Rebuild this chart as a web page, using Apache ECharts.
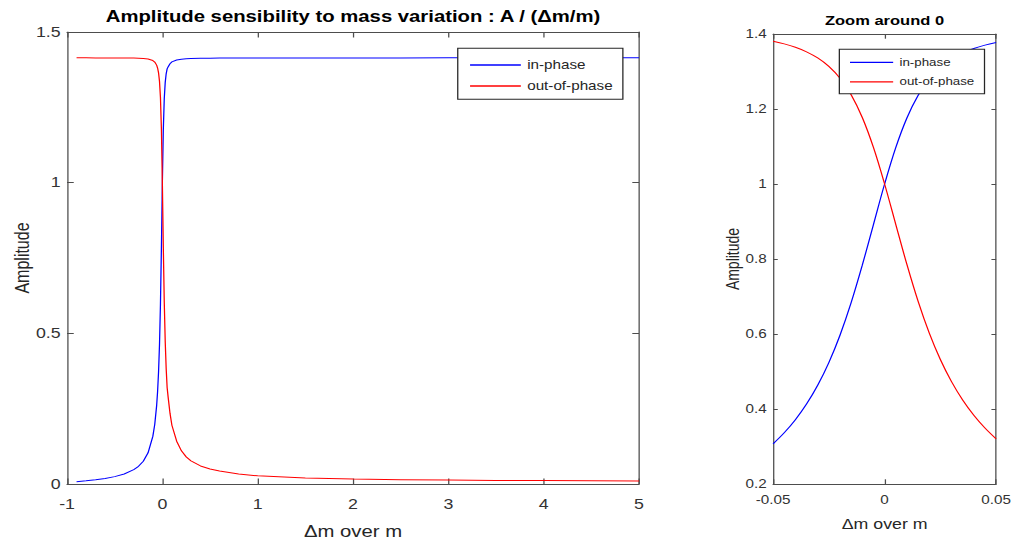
<!DOCTYPE html>
<html>
<head>
<meta charset="utf-8">
<script src="https://cdn.jsdelivr.net/npm/echarts@6/dist/echarts.min.js"></script>
<style>
  html, body { margin: 0; padding: 0; background: #fff; overflow: hidden; }
  /* the figure is laid out on a narrower canvas and widened horizontally */
  #chart { width: 798px; height: 545px; transform: scaleX(1.26942); transform-origin: 0 0; }
</style>
</head>
<body>
<div id="chart"></div>
<script>
// Relative mass variation (Δm/m) over the full range
const xWide = [-0.9, -0.8, -0.7, -0.6, -0.5, -0.4, -0.3, -0.25, -0.2, -0.15, -0.1, -0.08, -0.06, -0.05,
  -0.04, -0.03, -0.02, -0.01, 0, 0.01, 0.02, 0.03, 0.04, 0.05, 0.06, 0.08, 0.1, 0.15, 0.2, 0.25, 0.3,
  0.4, 0.5, 0.6, 0.8, 1, 1.5, 2, 2.5, 3, 3.5, 4, 4.5, 5];
const inPhaseWide = [0.0074, 0.0105, 0.0141, 0.0185, 0.0245, 0.0332, 0.0475, 0.0588, 0.0757, 0.1036,
  0.158, 0.1975, 0.2602, 0.307, 0.3714, 0.4632, 0.5967, 0.7834, 1, 1.176, 1.2792, 1.3328, 1.3612,
  1.3774, 1.3841, 1.3946, 1.4007, 1.4071, 1.4099, 1.4114, 1.4121, 1.4129, 1.4133, 1.4136, 1.4138,
  1.414, 1.4141, 1.4141, 1.4141, 1.4142, 1.4142, 1.4142, 1.4142, 1.4142];
const outPhaseWide = [1.4142, 1.4142, 1.4141, 1.4141, 1.414, 1.4138, 1.4134, 1.413, 1.4122, 1.4104,
  1.4053, 1.4003, 1.3901, 1.3805, 1.3646, 1.3362, 1.2822, 1.1774, 1, 0.7855, 0.603, 0.4729, 0.3834,
  0.3204, 0.29, 0.235, 0.195, 0.142, 0.11, 0.09, 0.077, 0.06, 0.05, 0.043, 0.033,
  0.027, 0.02, 0.0165, 0.0145, 0.013, 0.012, 0.0113, 0.0107, 0.0102];

// Close-up around Δm/m = 0
const xZoom = [-0.05, -0.045, -0.04, -0.035, -0.03, -0.025, -0.02, -0.015, -0.01, -0.005, 0,
  0.005, 0.01, 0.015, 0.02, 0.025, 0.03, 0.035, 0.04, 0.045, 0.05];
const inPhaseZoom = [0.307, 0.3365, 0.3714, 0.4131, 0.4632, 0.5237, 0.5967, 0.6835, 0.7834, 0.8919, 1,
  1.097, 1.176, 1.2358, 1.2792, 1.3104, 1.3328, 1.3491, 1.3612, 1.3704, 1.3774];
const outPhaseZoom = [1.3805, 1.3736, 1.3646, 1.3525, 1.3362, 1.3137, 1.2822, 1.2381, 1.1774, 1.0975, 1,
  0.8925, 0.7855, 0.6876, 0.603, 0.5319, 0.4729, 0.4241, 0.3834, 0.3493, 0.3204];

const seriesNames = ['in-phase', 'out-of-phase'];
const seriesColors = ['#0000ff', '#ff0000'];
const titles = ['Amplitude sensibility to mass variation : A / (\u0394m/m)', 'Zoom around 0'];
const xName = '\u0394m over m';
const yName = 'Amplitude';

const FONT = '"Liberation Sans", Arial, Helvetica, sans-serif';
const AXIS = '#4d4d4d';
const TEXT = '#333333';

function pairs(xs, ys) { return xs.map((x, i) => [x, ys[i]]); }

function axis(gridIndex, position, range, tickLen, label, name) {
  const a = {
    gridIndex, type: 'value', position,
    min: range[0], max: range[1], interval: range[2],
    axisLine: { show: true, onZero: false, lineStyle: { color: AXIS, width: 1 } },
    axisTick: { show: true, inside: true, length: tickLen, lineStyle: { color: AXIS, width: 1 } },
    axisLabel: label ? { show: true, fontSize: label.size, margin: label.margin, color: TEXT, fontFamily: FONT }
                     : { show: false },
    splitLine: { show: false }
  };
  if (name) {
    Object.assign(a, {
      name: name.text, nameLocation: 'middle', nameGap: name.gap, nameRotate: name.rotate || 0,
      nameMoveOverlap: false,
      nameTextStyle: { fontSize: name.size, color: '#262626', fontFamily: FONT }
    });
  }
  return a;
}

function legend(left, top, itemWidth, fontSize, itemGap, padding) {
  return {
    data: seriesNames, orient: 'vertical', left, top, icon: 'rect',
    itemWidth, itemHeight: 1.3, itemGap, padding, selectedMode: false,
    backgroundColor: '#ffffff', borderColor: '#262626', borderWidth: 1, borderRadius: 0,
    textStyle: { fontSize, color: '#262626', fontFamily: FONT }
  };
}

function line(name, color, data, xi, yi, smooth) {
  return {
    name, type: 'line', data, xAxisIndex: xi, yAxisIndex: yi,
    showSymbol: false, symbol: 'none', smooth: smooth ? 0.35 : false,
    color, itemStyle: { color }, lineStyle: { color, width: 1 }, animation: false
  };
}

const chart = echarts.init(document.getElementById('chart'), null, { renderer: 'svg' });
chart.setOption({
  animation: false,
  backgroundColor: '#ffffff',
  grid: [
    { left: 52.8, top: 32, width: 450.6, height: 452, containLabel: false, outerBoundsMode: 'none' },
    { left: 609, top: 34, width: 175.7, height: 450, containLabel: false, outerBoundsMode: 'none' }
  ],
  xAxis: [
    axis(0, 'bottom', [-1, 5, 1], 5.5, { size: 14, margin: 13 }, { text: xName, gap: 39, size: 16 }),
    axis(0, 'top', [-1, 5, 1], 5.5, null, null),
    axis(1, 'bottom', [-0.05, 0.05, 0.05], 4.7, { size: 12, margin: 10 }, { text: xName, gap: 33, size: 14 }),
    axis(1, 'top', [-0.05, 0.05, 0.05], 4.7, null, null)
  ],
  yAxis: [
    axis(0, 'left', [0, 1.5, 0.5], 5.3, { size: 14, margin: 5 }, { text: yName, gap: 28, size: 16, rotate: 90 }),
    axis(0, 'right', [0, 1.5, 0.5], 5.3, null, null),
    axis(1, 'left', [0.2, 1.4, 0.2], 3.7, { size: 12, margin: 5 }, { text: yName, gap: 25, size: 14, rotate: 90 }),
    axis(1, 'right', [0.2, 1.4, 0.2], 3.7, null, null)
  ],
  legend: [
    legend(360.6, 48.3, 40, 12, 9, [10.7, 8, 7.3, 9.7]),
    legend(661.2, 49.3, 34, 10.5, 8.5, [7.5, 8, 6.5, 8.4])
  ],
  graphic: [
    { type: 'text', x: 278.1, y: 8, style: { text: titles[0], fill: '#000', font: 'bold 16px ' + FONT,
      align: 'center', textAlign: 'center', verticalAlign: 'top', textVerticalAlign: 'top' } },
    { type: 'text', x: 696.8, y: 14, style: { text: titles[1], fill: '#000', font: 'bold 13px ' + FONT,
      align: 'center', textAlign: 'center', verticalAlign: 'top', textVerticalAlign: 'top' } }
  ],
  series: [
    line(seriesNames[0], seriesColors[0], pairs(xWide, inPhaseWide), 0, 0, false),
    line(seriesNames[1], seriesColors[1], pairs(xWide, outPhaseWide), 0, 0, false),
    line(seriesNames[0], seriesColors[0], pairs(xZoom, inPhaseZoom), 2, 2, true),
    line(seriesNames[1], seriesColors[1], pairs(xZoom, outPhaseZoom), 2, 2, true)
  ]
});
</script>
</body>
</html>
